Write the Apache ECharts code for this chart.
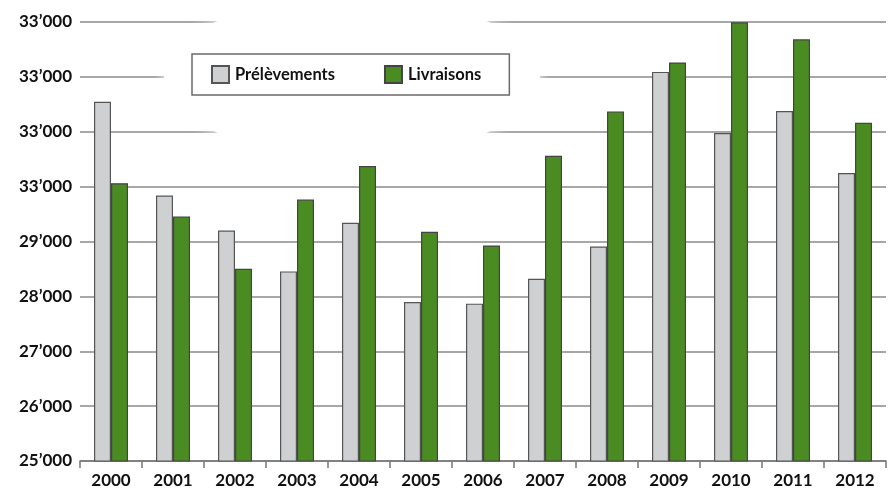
<!DOCTYPE html>
<html>
<head>
<meta charset="utf-8">
<script src="https://cdn.jsdelivr.net/npm/echarts@6/dist/echarts.min.js"></script>
<style>html,body{margin:0;padding:0;background:#fff;}#c{width:894px;height:491px;}</style>
</head>
<body>
<div id="c"></div>
<script>
const years = ['2000','2001','2002','2003','2004','2005','2006','2007','2008','2009','2010','2011','2012'];
const prelevements = [31545, 29836, 29200, 28455, 29340, 27898, 27867, 28322, 28909, 32091, 30976, 31376, 30249];
const livraisons = [30062, 29455, 28504, 29764, 30376, 29176, 28927, 30564, 31371, 32262, 32995, 32685, 31164];
const yTickLabels = ['25’000','26’000','27’000','28’000','29’000','33’000','33’000','33’000','33’000'];
const seriesNames = ['Prélèvements', 'Livraisons'];

const FONT = 'Lato';
const chart = echarts.init(document.getElementById('c'), null, {renderer: 'canvas'});
chart.setOption({
  animation: false,
  backgroundColor: '#fff',
  grid: {left: 80, right: 8, top: 22, bottom: 30, containLabel: false},
  graphic: [{
    type: 'ellipse',
    z: 1,
    shape: {cx: 352, cy: 77, rx: 188, ry: 80},
    style: {fill: '#fff', shadowBlur: 12, shadowColor: '#fff'},
    silent: true
  }],
  legend: {
    left: 192, top: 54,
    padding: [11, 28, 11, 19],
    itemGap: 49,
    itemWidth: 17, itemHeight: 17,
    backgroundColor: '#fff',
    borderColor: '#6b6b6b',
    borderWidth: 1.5,
    borderRadius: 0,
    icon: 'rect',
    textStyle: {fontFamily: FONT, fontWeight: 'bold', fontSize: 16.5, color: '#111', padding: [0, 0, 0, 1]},
    data: seriesNames
  },
  xAxis: {
    type: 'category',
    data: years,
    axisLine: {lineStyle: {color: '#777', width: 1.5}},
    axisTick: {show: true, length: 7, lineStyle: {color: '#777', width: 1.5}},
    axisLabel: {fontFamily: FONT, fontWeight: 'bold', fontSize: 17, color: '#111', margin: 11}
  },
  yAxis: {
    type: 'value',
    min: 25000, max: 33000, interval: 1000,
    axisLine: {show: false},
    axisTick: {show: false},
    splitLine: {show: true, lineStyle: {color: '#8a8a8a', width: 1.5}},
    axisLabel: {
      fontFamily: FONT, fontWeight: 'bold', fontSize: 17, color: '#111', margin: 8,
      formatter: function (v) { return yTickLabels[Math.round((v - 25000) / 1000)]; }
    }
  },
  series: [
    {
      name: seriesNames[0], type: 'bar', data: prelevements,
      barWidth: 17, barGap: '0%', z: 2,
      itemStyle: {color: '#cfd0d2', borderColor: '#555', borderWidth: 1.2}
    },
    {
      name: seriesNames[1], type: 'bar', data: livraisons,
      barWidth: 17, barGap: '0%', z: 2,
      itemStyle: {color: '#4a8c22', borderColor: '#444', borderWidth: 1.2}
    }
  ]
});
</script>
</body>
</html>
